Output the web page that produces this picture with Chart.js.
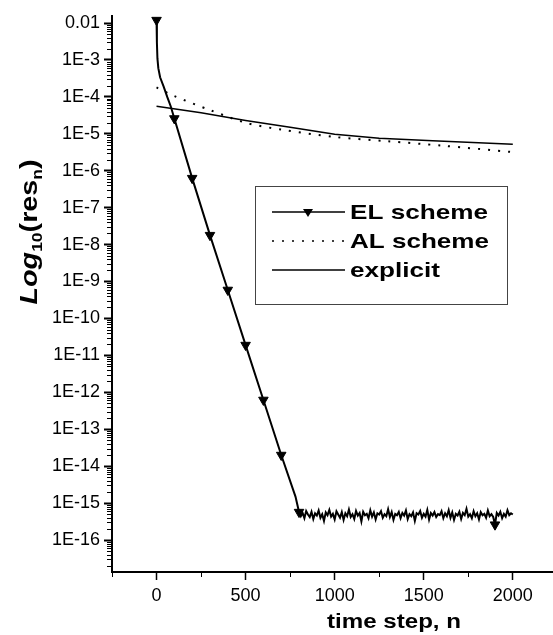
<!DOCTYPE html>
<html>
<head>
<meta charset="utf-8">
<script src="https://cdn.jsdelivr.net/npm/chart.js@4/dist/chart.umd.min.js"></script>
<style>
html, body { margin: 0; padding: 0; background: #fff; }
</style>
</head>
<body>
<canvas id="resChart" width="553" height="635"></canvas>
<script>
// EL scheme: fast drop, then noise floor (every 10 steps after 800)
const elSteps = [0, 2, 5, 10, 20, 40, 60, 80, 100, 200, 300, 400, 500, 600, 700, 780,
  800, 810, 820, 830, 840, 850, 860, 870, 880, 890, 900, 910, 920, 930, 940, 950, 960, 970, 980, 990,
  1000, 1010, 1020, 1030, 1040, 1050, 1060, 1070, 1080, 1090, 1100, 1110, 1120, 1130, 1140, 1150, 1160, 1170, 1180, 1190,
  1200, 1210, 1220, 1230, 1240, 1250, 1260, 1270, 1280, 1290, 1300, 1310, 1320, 1330, 1340, 1350, 1360, 1370, 1380, 1390,
  1400, 1410, 1420, 1430, 1440, 1450, 1460, 1470, 1480, 1490, 1500, 1510, 1520, 1530, 1540, 1550, 1560, 1570, 1580, 1590,
  1600, 1610, 1620, 1630, 1640, 1650, 1660, 1670, 1680, 1690, 1700, 1710, 1720, 1730, 1740, 1750, 1760, 1770, 1780, 1790,
  1800, 1810, 1820, 1830, 1840, 1850, 1860, 1870, 1880, 1890, 1900, 1910, 1920, 1930, 1940, 1950, 1960, 1970, 1980, 1990, 2000];
const elRes = [1.2e-2, 3e-3, 1.1e-3, 6e-4, 3.4e-4, 1.9e-4, 1e-4, 5.5e-5, 2.6e-5, 6.3e-7, 1.8e-8, 5.9e-10, 1.9e-11, 6.2e-13, 2.0e-14, 1.5e-15,
  5.7e-16, 4.4e-16, 5.4e-16, 3.9e-16, 6.1e-16, 4.9e-16, 4.2e-16, 5.8e-16, 3.7e-16, 5.3e-16, 4.6e-16, 6.3e-16, 4.0e-16, 5.0e-16, 3.3e-16, 5.6e-16, 4.7e-16, 6.5e-16, 4.3e-16, 5.1e-16,
  3.6e-16, 6.0e-16, 4.9e-16, 4.0e-16, 5.7e-16, 3.5e-16, 5.3e-16, 4.4e-16, 6.7e-16, 4.2e-16, 5.0e-16, 3.7e-16, 6.1e-16, 4.6e-16, 5.4e-16, 3.2e-16, 5.8e-16, 4.7e-16, 5.1e-16, 3.9e-16,
  6.4e-16, 4.3e-16, 5.6e-16, 3.6e-16, 5.3e-16, 4.9e-16, 6.0e-16, 4.0e-16, 5.0e-16, 4.4e-16, 6.8e-16, 4.2e-16, 5.7e-16, 3.5e-16, 5.1e-16, 4.7e-16, 5.8e-16, 3.9e-16, 5.4e-16, 4.6e-16,
  6.3e-16, 3.7e-16, 5.0e-16, 4.4e-16, 5.6e-16, 3.3e-16, 5.3e-16, 4.9e-16, 6.1e-16, 4.0e-16, 5.1e-16, 4.3e-16, 6.5e-16, 3.6e-16, 5.4e-16, 4.6e-16, 5.7e-16, 4.2e-16, 5.0e-16, 4.7e-16,
  6.0e-16, 3.9e-16, 5.3e-16, 4.4e-16, 6.4e-16, 4.0e-16, 5.6e-16, 3.5e-16, 5.1e-16, 4.6e-16, 5.8e-16, 3.7e-16, 5.4e-16, 4.7e-16, 7.0e-16, 4.3e-16, 5.0e-16, 3.9e-16, 6.0e-16, 4.4e-16,
  5.3e-16, 3.6e-16, 5.7e-16, 4.7e-16, 5.1e-16, 4.0e-16, 6.3e-16, 4.4e-16, 5.0e-16, 4.2e-16, 2.6e-16, 5.4e-16, 4.6e-16, 5.8e-16, 3.9e-16, 5.1e-16, 4.3e-16, 6.4e-16, 4.7e-16, 5.3e-16, 4.9e-16];
// steps where the EL triangle marker shows (others sink into the noise band)
const elMarkerSteps = [0, 100, 200, 300, 400, 500, 600, 700, 800, 1900];

// AL scheme
const alSteps = [0, 100, 300, 500, 700, 1000, 1300, 1600, 2000];
const alRes = [1.8e-4, 1.05e-4, 4.4e-5, 2.0e-5, 1.3e-5, 8.2e-6, 6.3e-6, 4.8e-6, 3.2e-6];

// explicit
const exSteps = [0, 250, 500, 750, 1000, 1250, 1550, 2000];
const exRes = [5.6e-5, 3.7e-5, 2.3e-5, 1.5e-5, 9.8e-6, 7.6e-6, 6.5e-6, 5.2e-6];

const seriesNames = ['EL scheme', 'AL scheme', 'explicit'];

// axis ticks
const yTickValues = [1e-16, 1e-15, 1e-14, 1e-13, 1e-12, 1e-11, 1e-10, 1e-9, 1e-8, 1e-7, 1e-6, 1e-5, 1e-4, 1e-3, 1e-2];
const yTickLabels = ['1E-16', '1E-15', '1E-14', '1E-13', '1E-12', '1E-11', '1E-10', '1E-9', '1E-8', '1E-7', '1E-6', '1E-5', '1E-4', '1E-3', '0.01'];
const xTickValues = [0, 500, 1000, 1500, 2000];
const xTickLabels = ['0', '500', '1000', '1500', '2000'];
const xMinorValues = [-250, 250, 750, 1250, 1750];

const FONT = "'Liberation Sans', Arial, sans-serif";
Chart.defaults.font.family = FONT;
Chart.defaults.color = '#000';

function toPoints(xs, ys) {
    return xs.map((x, i) => ({ x: x, y: ys[i] }));
}

// draws text squeezed/stretched horizontally to a given width
function fitText(ctx, text, x, y, width) {
    const w = ctx.measureText(text).width;
    ctx.save();
    ctx.translate(x, y);
    ctx.scale(width / w, 1);
    ctx.fillText(text, 0, 0);
    ctx.restore();
}

const minorTicks = {
    id: 'minorTicks',
    afterDraw(chart) {
        const { ctx, scales: { x, y } } = chart;
        ctx.save();
        ctx.strokeStyle = '#000';
        ctx.lineWidth = 1;
        ctx.beginPath();
        xMinorValues.forEach(v => {
            const px = Math.round(x.getPixelForValue(v)) + 0.5;
            ctx.moveTo(px, x.top);
            ctx.lineTo(px, x.top + 5);
        });
        for (let e = -17; e <= -2; e++) {
            for (let k = 2; k <= 9; k++) {
                const v = k * Math.pow(10, e);
                if (v < y.min || v > y.max) continue;
                const py = Math.round(y.getPixelForValue(v)) + 0.5;
                ctx.moveTo(y.right - 5, py);
                ctx.lineTo(y.right, py);
            }
        }
        ctx.stroke();
        ctx.restore();
    }
};

const axisTitles = {
    id: 'axisTitles',
    afterDraw(chart) {
        const ctx = chart.ctx;
        ctx.save();
        ctx.fillStyle = '#000';
        ctx.textBaseline = 'alphabetic';
        ctx.textAlign = 'left';

        // x title
        ctx.font = 'bold 20px ' + FONT;
        fitText(ctx, 'time step, n', 327, 628, 134);

        // y title: Log10(res_n), rotated
        const parts = [
            { t: 'Log', f: 'italic bold 23px ' + FONT, dy: 0 },
            { t: '10', f: 'bold 14px ' + FONT, dy: 5 },
            { t: '(res', f: 'bold 23px ' + FONT, dy: 0 },
            { t: 'n', f: 'bold 14px ' + FONT, dy: 5 },
            { t: ')', f: 'bold 23px ' + FONT, dy: 0 }
        ];
        let total = 0;
        parts.forEach(p => { ctx.font = p.f; p.w = ctx.measureText(p.t).width; total += p.w; });
        ctx.translate(37, 232);
        ctx.rotate(-Math.PI / 2);
        ctx.scale(145 / total, 1);
        let cx = -total / 2;
        parts.forEach(p => {
            ctx.font = p.f;
            ctx.fillText(p.t, cx, p.dy);
            cx += p.w;
        });
        ctx.restore();
    }
};

const boxLegend = {
    id: 'boxLegend',
    afterDraw(chart) {
        const ctx = chart.ctx;
        const rows = [212, 241, 270];
        const widths = [138, 139, 90];
        ctx.save();
        ctx.strokeStyle = '#444';
        ctx.lineWidth = 1;
        ctx.strokeRect(255.5, 186.5, 252, 118);

        ctx.strokeStyle = '#000';
        // EL sample
        ctx.lineWidth = 1.5;
        ctx.beginPath();
        ctx.moveTo(272, rows[0]); ctx.lineTo(345, rows[0]);
        ctx.stroke();
        ctx.fillStyle = '#000';
        ctx.beginPath();
        ctx.moveTo(303, rows[0] - 3); ctx.lineTo(313, rows[0] - 3); ctx.lineTo(308, rows[0] + 5);
        ctx.closePath();
        ctx.fill();
        // AL sample
        ctx.setLineDash([2, 8]);
        ctx.lineWidth = 1.5;
        ctx.beginPath();
        ctx.moveTo(272, rows[1]); ctx.lineTo(345, rows[1]);
        ctx.stroke();
        ctx.setLineDash([]);
        // explicit sample
        ctx.beginPath();
        ctx.moveTo(272, rows[2]); ctx.lineTo(345, rows[2]);
        ctx.stroke();

        ctx.font = 'bold 21px ' + FONT;
        ctx.textBaseline = 'middle';
        seriesNames.forEach((name, i) => fitText(ctx, name, 350, rows[i] + 1, widths[i]));
        ctx.restore();
    }
};

new Chart(document.getElementById('resChart'), {
    type: 'line',
    data: {
        datasets: [
            {
                label: seriesNames[0],
                data: toPoints(elSteps, elRes),
                borderColor: '#000',
                backgroundColor: '#000',
                borderWidth: 2,
                tension: 0,
                pointStyle: 'triangle',
                rotation: 180,
                pointRadius: c => (elMarkerSteps.includes(elSteps[c.dataIndex]) ? 5.5 : 0),
                pointBorderWidth: 1
            },
            {
                label: seriesNames[1],
                data: toPoints(alSteps, alRes),
                borderColor: '#000',
                borderWidth: 2,
                borderDash: [2, 8],
                tension: 0.3,
                pointRadius: 0
            },
            {
                label: seriesNames[2],
                data: toPoints(exSteps, exRes),
                borderColor: '#000',
                borderWidth: 1.5,
                tension: 0,
                pointRadius: 0
            }
        ]
    },
    options: {
        responsive: false,
        animation: false,
        layout: { autoPadding: false, padding: { top: 16, right: 1, left: 0, bottom: 0 } },
        plugins: {
            legend: { display: false },
            tooltip: { enabled: false }
        },
        scales: {
            x: {
                type: 'linear',
                min: -250,
                max: 2220,
                afterFit: s => { s.height = 63; },
                afterBuildTicks: s => { s.ticks = xTickValues.map(v => ({ value: v })); },
                grid: { drawOnChartArea: false, drawTicks: true, tickLength: 8, tickColor: '#000', tickWidth: 1.5 },
                border: { display: true, color: '#000', width: 2 },
                ticks: {
                    autoSkip: false,
                    maxRotation: 0,
                    padding: 5,
                    font: { size: 18 },
                    color: '#000',
                    callback: (v, i) => xTickLabels[i]
                }
            },
            y: {
                type: 'logarithmic',
                min: 1.36e-17,
                max: 0.0155,
                afterFit: s => { s.width = 112; },
                afterBuildTicks: s => { s.ticks = yTickValues.map(v => ({ value: v })); },
                grid: { drawOnChartArea: false, drawTicks: true, tickLength: 8, tickColor: '#000', tickWidth: 2 },
                border: { display: true, color: '#000', width: 2 },
                ticks: {
                    autoSkip: false,
                    padding: 4,
                    font: { size: 18 },
                    color: '#000',
                    callback: (v, i) => yTickLabels[i]
                }
            }
        }
    },
    plugins: [minorTicks, axisTitles, boxLegend]
});
</script>
</body>
</html>
